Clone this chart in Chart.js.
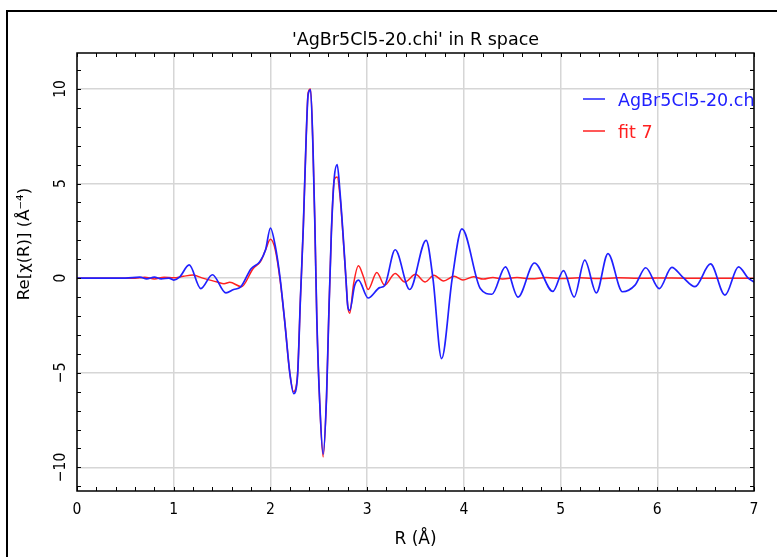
<!DOCTYPE html>
<html>
<head>
<meta charset="utf-8">
<script src="https://cdn.jsdelivr.net/npm/chart.js@4/dist/chart.umd.min.js"></script>
<style>
  html, body { margin: 0; padding: 0; background: #fff; }
  #wrap { width: 777px; height: 557px; }
</style>
</head>
<body>
<div id="wrap"><canvas id="c" width="777" height="557"></canvas></div>
<script>
// ---- data ----
const chartTitle = "'AgBr5Cl5-20.chi' in R space";
const xTitle = "R (Å)";
const yTitle = "Re[χ(R)] (Å⁻⁴)";
const dataLabel = "AgBr5Cl5-20.chi";
const fitLabel = "fit 7";

const dataR = [0, 0.5, 0.65, 0.72, 0.8, 0.87, 0.95, 1.0, 1.06, 1.16,
  1.28, 1.40, 1.54, 1.62, 1.69, 1.80, 1.89, 1.95, 2.0, 2.05,
  2.10, 2.15, 2.20, 2.24, 2.28, 2.31, 2.34, 2.37, 2.39, 2.415,
  2.44, 2.46, 2.48, 2.51, 2.545, 2.58, 2.60, 2.63, 2.66, 2.69,
  2.72, 2.75, 2.78, 2.80, 2.82, 2.87, 2.91, 3.01, 3.13, 3.18,
  3.29, 3.44, 3.61, 3.68, 3.77, 3.88, 3.98, 4.17, 4.29, 4.43,
  4.56, 4.73, 4.92, 5.03, 5.14, 5.25, 5.37, 5.49, 5.64, 5.77,
  5.88, 6.02, 6.15, 6.26, 6.39, 6.55, 6.70, 6.84, 6.94, 7.0];
const dataChi = [0, 0, 0.05, -0.04, 0.05, -0.04, 0.0, -0.1, 0.05, 0.7,
  -0.55, 0.18, -0.78, -0.6, -0.48, 0.5, 0.87, 1.5, 2.65, 1.7,
  0.0, -2.4, -5.0, -6.1, -5.2, -1.1, 2.7, 7.5, 9.7, 9.95,
  6.9, 2.7, -2.2, -6.6, -9.3, -6.3, -2.6, 2.4, 5.3, 6.0,
  4.5, 2.4, 0.05, -1.5, -1.7, -0.4, -0.1, -1.05, -0.5, -0.4,
  1.5, -0.6, 2.0, 0.0, -4.25, 0.0, 2.6, -0.55, -0.85, 0.6,
  -1.0, 0.8, -0.7, 0.4, -1.0, 0.95, -0.78, 1.3, -0.72, -0.37,
  0.55, -0.55, 0.57, 0.07, -0.45, 0.75, -0.9, 0.6, 0.0, -0.2];

const fitR = [0, 0.5, 0.6, 0.7, 0.8, 0.9, 1.0, 1.1, 1.2, 1.3,
  1.45, 1.52, 1.58, 1.70, 1.82, 1.90, 1.95, 2.0, 2.05, 2.10,
  2.15, 2.20, 2.24, 2.28, 2.31, 2.34, 2.37, 2.39, 2.415, 2.44,
  2.46, 2.48, 2.51, 2.545, 2.58, 2.60, 2.63, 2.66, 2.69, 2.72,
  2.75, 2.78, 2.80, 2.82, 2.86, 2.91, 2.96, 3.01, 3.10, 3.18,
  3.29, 3.39, 3.5, 3.6, 3.69, 3.79, 3.9, 3.99, 4.1, 4.2,
  4.3, 4.4, 4.55, 4.7, 4.85, 5.0, 5.2, 5.4, 5.6, 5.8,
  6.0, 6.3, 6.6, 7.0];
const fitChi = [0, 0, 0, 0.05, -0.04, 0.05, 0.02, 0.1, 0.16, 0.0,
  -0.2, -0.3, -0.22, -0.45, 0.5, 0.9, 1.5, 2.05, 1.5, -0.1,
  -2.4, -5.0, -6.0, -5.1, -1.1, 2.7, 7.5, 9.8, 10.0, 6.9,
  2.7, -2.2, -6.6, -9.45, -6.3, -2.6, 2.4, 5.2, 5.35, 4.3,
  2.3, 0.0, -1.5, -1.85, -0.3, 0.65, 0.1, -0.6, 0.3, -0.37,
  0.25, -0.2, 0.2, -0.2, 0.15, -0.15, 0.1, -0.1, 0.07, -0.05,
  0.04, -0.04, 0.03, -0.03, 0.03, -0.02, 0.02, -0.02, 0.02, -0.01,
  0.01, 0, 0, 0];

const xRange = [0, 7];
const yRange = [-11.25, 11.9];
const xMajorStep = 1, xMinorStep = 0.2;
const yMajorStep = 5, yMinorStep = 1;

const TEXT_FONT = "'DejaVu Sans', 'Liberation Sans', sans-serif";
const TICK_FONT = "'DejaVu Sans Condensed', 'Liberation Sans Narrow', 'DejaVu Sans', sans-serif";
const fmtMinus = v => String(v).replace('-', '\u2212');

const toXY = (xs, ys) => xs.map((x, i) => ({ x: x, y: ys[i] }));

const decorPlugin = {
  id: 'decor',
  beforeDraw(chart) {
    const ctx = chart.ctx;
    ctx.save();
    ctx.fillStyle = '#fff';
    ctx.fillRect(0, 0, chart.width, chart.height);
    ctx.strokeStyle = '#000';
    ctx.lineWidth = 2;
    ctx.strokeRect(7, 11, chart.width + 20, chart.height + 20);
    ctx.restore();
  },
  afterDatasetsDraw(chart) {
    const ctx = chart.ctx;
    const { left, right, top, bottom } = chart.chartArea;
    const xs = chart.scales.x, ys = chart.scales.y;
    ctx.save();
    // plot frame
    ctx.strokeStyle = '#000';
    ctx.lineWidth = 1.5;
    ctx.strokeRect(left, top, right - left, bottom - top);
    // inward ticks on all four sides
    ctx.lineWidth = 1;
    ctx.beginPath();
    const nx = Math.round((xRange[1] - xRange[0]) / xMinorStep);
    for (let i = 0; i <= nx; i++) {
      const v = xRange[0] + i * xMinorStep;
      const len = 4;
      const px = Math.round(xs.getPixelForValue(v)) + 0.5;
      ctx.moveTo(px, bottom); ctx.lineTo(px, bottom - len);
      ctx.moveTo(px, top); ctx.lineTo(px, top + len);
    }
    const yStart = Math.ceil(yRange[0] / yMinorStep), yEnd = Math.floor(yRange[1] / yMinorStep);
    for (let k = yStart; k <= yEnd; k++) {
      const v = k * yMinorStep;
      const len = 4;
      const py = Math.round(ys.getPixelForValue(v)) + 0.5;
      ctx.moveTo(left, py); ctx.lineTo(left + len, py);
      ctx.moveTo(right, py); ctx.lineTo(right - len, py);
    }
    ctx.stroke();

    // legend inside the plot, clipped at the frame
    ctx.save();
    ctx.beginPath();
    ctx.rect(left, top, right - left, bottom - top);
    ctx.clip();
    const items = chart.data.datasets;
    const lx = left + 506, ly = top + 46, gap = 32;
    items.forEach((ds, i) => {
      const yy = ly + i * gap;
      ctx.strokeStyle = ds.borderColor;
      ctx.lineWidth = 1.5;
      ctx.beginPath();
      ctx.moveTo(lx, yy); ctx.lineTo(lx + 22, yy);
      ctx.stroke();
      ctx.fillStyle = ds.borderColor;
      ctx.font = '17.5px ' + TEXT_FONT;
      ctx.textBaseline = 'middle';
      ctx.textAlign = 'left';
      ctx.fillText(ds.label, lx + 35, yy + 2);
    });
    ctx.restore();

    // y axis title
    ctx.fillStyle = '#000';
    ctx.font = '16.5px ' + TEXT_FONT;
    ctx.textAlign = 'center';
    ctx.textBaseline = 'middle';
    ctx.translate(25, 244);
    ctx.rotate(-Math.PI / 2);
    ctx.fillText(yTitle, 0, 0);
    ctx.restore();
  }
};

new Chart(document.getElementById('c'), {
  type: 'line',
  data: {
    datasets: [
      { label: dataLabel, data: toXY(dataR, dataChi), borderColor: '#2020ff',
        borderWidth: 1.7, pointRadius: 0, cubicInterpolationMode: 'monotone', fill: false },
      { label: fitLabel, data: toXY(fitR, fitChi), borderColor: '#ff2020',
        borderWidth: 1.5, pointRadius: 0, cubicInterpolationMode: 'monotone', fill: false }
    ]
  },
  options: {
    responsive: false,
    animation: false,
    events: [],
    layout: { padding: { left: 0, right: 23, top: 0, bottom: 0 } },
    plugins: {
      legend: { display: false },
      tooltip: { enabled: false },
      title: {
        display: true, text: chartTitle, color: '#000', fullSize: false,
        font: { family: TEXT_FONT, size: 17.5, weight: 'normal' },
        padding: { top: 29.5, bottom: 2.5 }
      }
    },
    scales: {
      x: {
        type: 'linear', min: xRange[0], max: xRange[1],
        afterFit: s => { s.height = 66; },
        grid: { color: '#d6d6d6', lineWidth: 1.5, drawTicks: false },
        border: { display: false },
        ticks: { stepSize: xMajorStep, color: '#000', padding: 10, maxRotation: 0,
          font: { family: TICK_FONT, size: 15.5 }, callback: v => fmtMinus(v) },
        title: { display: true, text: xTitle, color: '#000',
          font: { family: TEXT_FONT, size: 17 }, padding: { top: 0, bottom: 7 } }
      },
      y: {
        type: 'linear', min: yRange[0], max: yRange[1],
        afterFit: s => { s.width = 77; },
        grid: { color: '#d6d6d6', lineWidth: 1.5, drawTicks: false },
        border: { display: false },
        ticks: { stepSize: yMajorStep, includeBounds: false, color: '#000', padding: 1,
          minRotation: 90, maxRotation: 90, crossAlign: 'center',
          font: { family: TICK_FONT, size: 15.5 }, callback: v => fmtMinus(v) }
      }
    }
  },
  plugins: [decorPlugin]
});
</script>
</body>
</html>
